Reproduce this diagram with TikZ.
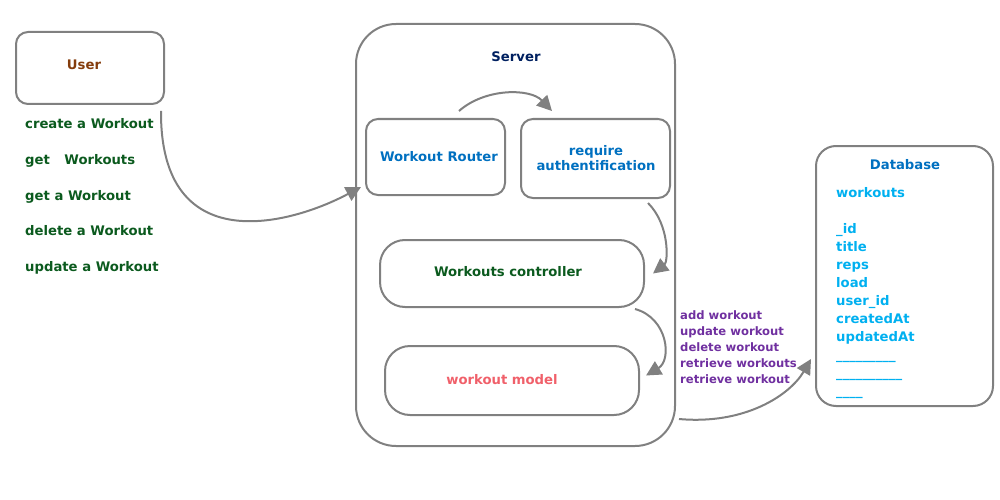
\documentclass[tikz,border=0pt]{standalone}
\usepackage{fontspec}
\setmainfont{DejaVu Sans}
\usetikzlibrary{arrows.meta}
\definecolor{edge}{HTML}{808080}
\definecolor{brownc}{HTML}{843C0C}
\definecolor{greenc}{HTML}{0B5A1E}
\definecolor{navyc}{HTML}{002060}
\definecolor{bluec}{HTML}{0070C0}
\definecolor{lightbluec}{HTML}{00B0F0}
\definecolor{pinkc}{HTML}{F0606A}
\definecolor{purplec}{HTML}{7030A0}
\begin{document}
\begin{tikzpicture}[x=1pt,y=-1pt,
  box/.style={draw=edge, line width=2pt, rounded corners=12pt, inner sep=0pt},
  bigbox/.style={box, rounded corners=40pt},
  ovalbox/.style={box, rounded corners=25pt},
  txt/.style={inner sep=0pt, font=\bfseries\fontsize{13.2}{15}\selectfont},
  small/.style={inner sep=0pt, font=\bfseries\fontsize{11.6}{13}\selectfont, text=purplec, anchor=base west},
  conn/.style={draw=edge, line width=2pt, -{Triangle[length=15pt,width=15pt]}}]
\useasboundingbox (0,0) rectangle (1000,500);
% boxes
\node[box, minimum width=148pt, minimum height=72pt] (user) at (90,68) {};
\node[bigbox, minimum width=319pt, minimum height=422pt] (server) at (515.5,235) {};
\node[box, minimum width=139pt, minimum height=76pt] (router) at (435.5,157) {};
\node[box, minimum width=149pt, minimum height=79pt] (auth) at (595.5,158.5) {};
\node[ovalbox, minimum width=264pt, minimum height=67pt] (ctrl) at (512,273.5) {};
\node[ovalbox, minimum width=254pt, minimum height=69pt] (model) at (512,380.5) {};
\node[box, rounded corners=20pt, minimum width=177pt, minimum height=260pt] (db) at (904.5,276) {};
% labels
\node[txt, text=brownc] (userlbl) at (84,65) {User};
\node[txt, text=navyc] (serverlbl) at (516,57) {Server};
\node[txt, text=bluec] (routerlbl) at (439,157) {Workout Router};
\node[txt, text=bluec, align=center] (authlbl) at (596,158) {require\\authentification};
\node[txt, text=greenc] (ctrllbl) at (508,272) {Workouts controller};
\node[txt, text=pinkc] (modellbl) at (502,380) {workout model};
\node[txt, text=bluec] (dblbl) at (905,165) {Database};
% user actions
\foreach \t [count=\i from 0] in {create a Workout, get\hspace{1.1em}Workouts, get a Workout, delete a Workout, update a Workout}
  \node[txt, text=greenc, anchor=base west] (act\i) at (25,128.5+35.75*\i) {\t};
% db fields
\foreach \t/\y [count=\i] in {workouts/197, \_id/233, title/251, reps/269, load/287, user\_id/305, createdAt/323, updatedAt/341, \_\_\_\_\_\_\_\_\_/359, \_\_\_\_\_\_\_\_\_\_/377, \_\_\_\_/395}
  \node[txt, text=lightbluec, anchor=base west] (f\i) at (836,\y) {\t};
% operations
\foreach \t [count=\i from 0] in {add workout, update workout, delete workout, retrieve workouts, retrieve workout}
  \node[small] (op\i) at (680,319+16*\i) {\t};
% connectors
\draw[conn] ([shift={(-4,6)}]user.south east) .. controls (160,260) and (290,225) .. ([shift={(-4,-9)}]router.south west);
\draw[conn] ([shift={(-47,-7)}]router.north east) .. controls (485,88) and (530,88) .. ([shift={(32,-7)}]auth.north west);
\draw[conn] ([shift={(-23,4)}]auth.south east) .. controls (670,225) and (668,262) .. ([shift={(8,0)}]ctrl.east);
\draw[conn] ([shift={(-10,1)}]ctrl.south east) .. controls (668,318) and (672,360) .. ([shift={(6,-5)}]model.east);
\draw[conn] ([shift={(3,-28)}]server.south east) .. controls (745,425) and (790,395) .. ([shift={(-4,-48)}]db.south west);
\end{tikzpicture}
\end{document}
